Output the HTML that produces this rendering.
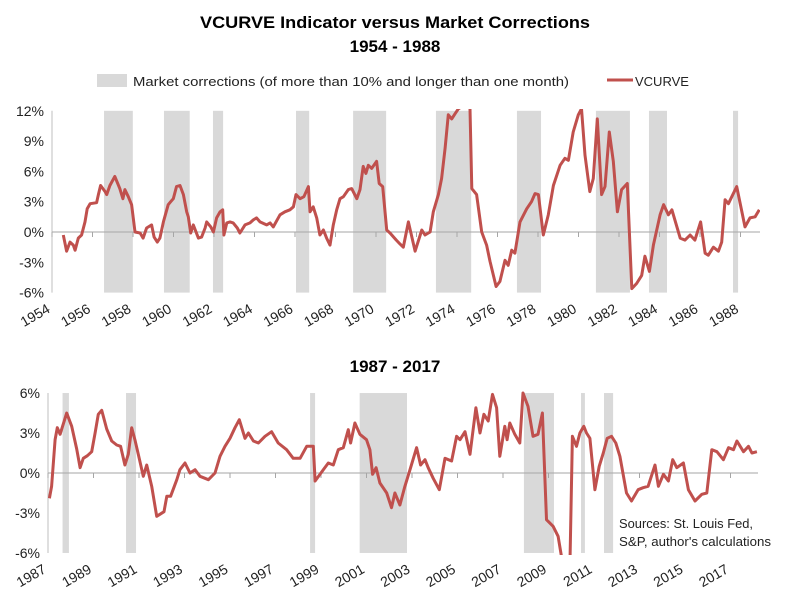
<!DOCTYPE html>
<html><head><meta charset="utf-8"><style>
body{margin:0;background:#fff;}
svg{display:block;font-family:"Liberation Sans",sans-serif;}
</style></head><body>
<svg id="chart" width="790" height="600" viewBox="0 0 790 600">
<text x="395" y="28" text-anchor="middle" font-weight="bold" font-size="17" textLength="390" lengthAdjust="spacingAndGlyphs">VCURVE Indicator versus Market Corrections</text>
<text x="395" y="52" text-anchor="middle" font-weight="bold" font-size="17">1954 - 1988</text>
<rect x="97" y="74" width="30" height="13" fill="#d9d9d9"/>
<text x="133" y="86" font-size="13" textLength="436" lengthAdjust="spacingAndGlyphs" fill="#222">Market corrections (of more than 10% and longer than one month)</text>
<line x1="607" y1="80" x2="633" y2="80" stroke="#c0504d" stroke-width="3"/>
<text x="635" y="86" font-size="13" fill="#222">VCURVE</text>
<text x="395" y="372" text-anchor="middle" font-weight="bold" font-size="17">1987 - 2017</text>
<text x="619" y="528" font-size="13" fill="#222" textLength="134" lengthAdjust="spacingAndGlyphs">Sources: St. Louis Fed,</text>
<text x="619" y="546" font-size="13" fill="#222" textLength="152" lengthAdjust="spacingAndGlyphs">S&amp;P, author's calculations</text>
<defs>
<clipPath id="clipTop"><rect x="52" y="109" width="708" height="186"/></clipPath>
<clipPath id="clipBot"><rect x="48" y="391" width="710" height="164"/></clipPath>
</defs>
</svg>
<script>
// ---- Top panel data ----
const topShadeStart=[1956.57,1959.53,1961.95,1966.05,1968.87,1972.96,1976.96,1980.86,1983.48,1987.63];
const topShadeEnd=[1957.99,1960.8,1962.45,1966.7,1970.5,1974.7,1978.15,1982.54,1984.37,1987.88];
const topYears=[1954.56,1954.72,1954.89,1955.05,1955.14,1955.3,1955.46,1955.63,1955.74,1955.88,1956.2,1956.29,1956.4,1956.62,1956.7,1956.86,1957.1,1957.35,1957.5,1957.6,1957.77,1957.93,1958.1,1958.35,1958.5,1958.67,1958.92,1959.04,1959.2,1959.33,1959.5,1959.74,1959.86,1959.99,1960.15,1960.32,1960.49,1960.65,1960.73,1960.85,1960.98,1961.23,1961.39,1961.56,1961.64,1961.84,1961.97,1962.13,1962.3,1962.43,1962.49,1962.63,1962.79,1962.95,1963.15,1963.28,1963.53,1963.78,1963.94,1964.1,1964.27,1964.6,1964.77,1964.93,1965.26,1965.5,1965.75,1965.92,1966.05,1966.25,1966.44,1966.66,1966.74,1966.9,1967.07,1967.23,1967.4,1967.56,1967.73,1967.89,1968.06,1968.22,1968.39,1968.63,1968.8,1969.05,1969.21,1969.37,1969.5,1969.62,1969.79,1970.03,1970.16,1970.33,1970.53,1970.69,1971.0,1971.19,1971.35,1971.6,1971.93,1972.26,1972.42,1972.67,1972.83,1973.08,1973.24,1973.41,1973.57,1973.74,1973.9,1974.07,1974.3,1974.56,1974.64,1974.73,1974.97,1975.22,1975.46,1975.63,1975.93,1976.12,1976.37,1976.53,1976.7,1976.86,1977.11,1977.44,1977.68,1977.85,1978.02,1978.26,1978.51,1978.76,1979.09,1979.33,1979.5,1979.74,1979.99,1980.15,1980.32,1980.56,1980.73,1980.93,1981.14,1981.31,1981.52,1981.72,1981.92,1982.13,1982.41,1982.63,1982.87,1983.12,1983.28,1983.5,1983.7,1984.03,1984.2,1984.44,1984.61,1985.02,1985.26,1985.51,1985.75,1986.03,1986.25,1986.41,1986.66,1986.91,1987.07,1987.24,1987.4,1987.81,1988.22,1988.47,1988.72,1988.93];
const topValues=[-0.3,-1.9,-1,-1.3,-1.8,-0.6,-0.3,1.0,2.3,2.8,2.9,3.7,4.6,4.0,3.7,4.6,5.5,4.3,3.3,4.2,3.5,2.7,0,-0.1,-0.6,0.4,0.7,-0.5,-1,-0.6,1.0,2.7,3.0,3.3,4.5,4.6,3.7,2.0,1.5,-0.1,0.7,-0.6,-0.5,0.4,1.0,0.5,0,1.4,2.0,2.2,-0.3,0.9,1.0,0.9,0.4,-0.1,0.7,0.9,1.2,1.4,1.0,0.7,0.9,0.5,1.7,2.0,2.2,2.5,3.7,3.3,3.5,4.5,2.0,2.5,1.4,-0.3,0.2,-0.6,-1.3,0.7,2.2,3.3,3.5,4.2,4.3,3.3,4.2,6.5,5.8,6.6,6.3,7.0,4.8,4.5,0.2,-0.1,-0.8,-1.2,-1.5,1.0,-1.9,0.2,-0.3,0,2.0,3.7,5.3,8.3,11.6,11.2,11.7,12.2,12.5,13,12.2,4.3,3.7,0,-1.3,-2.9,-5.4,-4.9,-2.8,-3.3,-1.8,-2.1,1.0,2.3,3.0,3.8,3.7,-0.3,1.7,4.6,6.6,7.3,7.1,9.9,11.6,12.2,7.6,4.0,5.3,11.2,3.7,4.5,9.9,7.0,2.0,4.2,4.8,-5.6,-5.1,-4.3,-2.4,-3.9,-1.3,1.7,2.7,1.7,2.2,-0.6,-0.8,-0.3,-0.8,1.0,-2.1,-2.3,-1.5,-1.9,-1.0,3.2,2.8,4.5,0.5,1.4,1.5,2.2];
const topYTicks=[12,9,6,3,0,-3,-6];
const topXTicks=[1954,1956,1958,1960,1962,1964,1966,1968,1970,1972,1974,1976,1978,1980,1982,1984,1986,1988];
// ---- Bottom panel data ----
const botShadeStart=[1987.64,1990.43,1998.52,2000.7,2007.92,2010.43,2011.44];
const botShadeEnd=[1987.92,1990.87,1998.74,2002.78,2009.24,2010.6,2011.84];
const botYears=[1987.06,1987.16,1987.31,1987.41,1987.53,1987.82,1988.04,1988.26,1988.41,1988.55,1988.73,1988.92,1989.07,1989.21,1989.36,1989.58,1989.8,1990.02,1990.19,1990.38,1990.53,1990.68,1990.82,1990.97,1991.19,1991.34,1991.56,1991.78,1991.92,1992.1,1992.22,1992.39,1992.66,1992.8,1993.02,1993.24,1993.46,1993.68,1994.05,1994.34,1994.56,1994.78,1995.0,1995.22,1995.41,1995.66,1995.81,1996.03,1996.25,1996.54,1996.83,1997.12,1997.49,1997.78,1998.08,1998.37,1998.66,1998.74,1999.1,1999.32,1999.54,1999.76,1999.98,2000.2,2000.3,2000.49,2000.71,2001.0,2001.15,2001.27,2001.42,2001.59,2001.89,2002.1,2002.25,2002.47,2002.69,2002.91,2003.2,2003.38,2003.57,2003.71,2003.93,2004.2,2004.45,2004.74,2004.96,2005.11,2005.33,2005.55,2005.81,2005.99,2006.16,2006.35,2006.54,2006.72,2006.86,2007.08,2007.18,2007.3,2007.52,2007.74,2007.88,2008.1,2008.32,2008.54,2008.73,2008.91,2009.2,2009.42,2009.64,2009.94,2010.05,2010.23,2010.38,2010.55,2010.67,2010.82,2011.04,2011.23,2011.41,2011.58,2011.77,2011.96,2012.14,2012.43,2012.65,2012.94,2013.16,2013.38,2013.68,2013.83,2014.05,2014.27,2014.46,2014.64,2014.93,2015.15,2015.44,2015.74,2015.96,2016.18,2016.4,2016.69,2016.91,2017.13,2017.28,2017.57,2017.79,2017.94,2018.16];
const botValues=[-1.9,-1.0,2.5,3.4,2.9,4.5,3.5,1.8,0.4,1.1,1.3,1.6,3.0,4.4,4.7,3.3,2.4,2.1,2.0,0.6,1.4,3.4,2.5,1.4,-0.25,0.6,-1.0,-3.25,-3.1,-2.9,-1.75,-1.75,-0.5,0.25,0.75,0,0.25,-0.25,-0.5,0,1.25,2.0,2.6,3.4,4.0,2.6,3.0,2.4,2.25,2.75,3.1,2.25,1.75,1.1,1.1,2.0,2.0,-0.6,0.25,0.75,0.6,1.75,1.9,3.25,2.25,3.75,2.9,2.5,1.75,-0.1,0.4,-0.75,-1.5,-2.6,-1.5,-2.4,-1.0,0.25,1.9,0.6,1.0,0.4,-0.4,-1.25,1.1,0.9,2.75,2.5,3.1,1.4,4.9,3.0,4.4,3.9,5.9,4.9,1.25,3.5,2.5,3.75,2.9,2.25,6.0,5.0,2.75,2.9,4.5,-3.5,-4.0,-4.75,-7,-7,2.75,2.0,3.0,3.5,3.0,2.6,-1.25,0.5,1.5,2.6,2.75,2.25,1.25,-1.5,-2.1,-1.25,-1.1,-1.0,0.6,-1.0,-0.1,-0.6,1.0,0.4,0.75,-1.25,-2.1,-1.6,-1.5,1.75,1.6,1.0,1.9,1.75,2.4,1.6,2.0,1.5,1.6];
const botYTicks=[6,3,0,-3,-6];
const botXTicks=[1987,1989,1991,1993,1995,1997,1999,2001,2003,2005,2007,2009,2011,2013,2015,2017];

const NS='http://www.w3.org/2000/svg';
const svg=document.getElementById('chart');
function mk(tag,attrs,parent){const e=document.createElementNS(NS,tag);for(const k in attrs)e.setAttribute(k,attrs[k]);(parent||svg).appendChild(e);return e;}

function panel(cfg){
  const x=y=>cfg.x0+(y-cfg.yr0)*cfg.pxYr;
  const yv=v=>cfg.zeroY-v*cfg.pxPct;
  const g=mk('g',{});
  
  
  for(let i=0;i<cfg.ss.length;i++){
    const r=mk('rect',{x:x(cfg.ss[i]),y:yv(cfg.ymax),width:x(cfg.se[i])-x(cfg.ss[i]),height:yv(cfg.ymin)-yv(cfg.ymax),fill:'#d9d9d9'},g);
    
    
  }
  const ax=mk('line',{x1:cfg.x0,x2:cfg.x0,y1:yv(cfg.ymax),y2:yv(cfg.ymin),stroke:'#bfbfbf','stroke-width':1},g);
  
  
  const zl=mk('line',{x1:cfg.x0,x2:cfg.xEnd,y1:yv(0),y2:yv(0),stroke:'#a6a6a6','stroke-width':1},g);
  
  
  cfg.yt.forEach(v=>{
    const t=mk('text',{x:cfg.x0-8,y:yv(v)+5,'text-anchor':'end','font-size':14,fill:'#222'},g);
    t.textContent=v+'%';
    
    
  });
  cfg.xt.forEach(yr=>{
    const tx=x(yr);
    const tk=mk('line',{x1:tx,x2:tx,y1:yv(0),y2:yv(0)+5,stroke:'#a6a6a6'},g);
    
    
    const lx=tx-1, ly=yv(cfg.ymin)+19;
    const t=mk('text',{x:lx,y:ly,'text-anchor':'end','font-size':14,fill:'#222',transform:`rotate(-30 ${lx} ${ly})`},g);
    t.textContent=yr;
    
    
  });
  const d=cfg.yrs.map((yr,i)=>(i?'L':'M')+x(yr).toFixed(1)+','+yv(cfg.vals[i]).toFixed(1)).join('');
  const p=mk('path',{d:d,fill:'none',stroke:'#c0504d','stroke-width':3,'stroke-linejoin':'round','clip-path':cfg.clip},g);
  
  
}
panel({name:'top-panel',x0:52,xEnd:760,yr0:1954,pxYr:20.25,zeroY:232,pxPct:10.1,ymax:12,ymin:-6,ss:topShadeStart,se:topShadeEnd,yt:topYTicks,xt:topXTicks,yrs:topYears,vals:topValues,clip:'url(#clipTop)'});
panel({name:'bottom-panel',x0:48,xEnd:758,yr0:1987,pxYr:22.75,zeroY:473,pxPct:13.33,ymax:6,ymin:-6,ss:botShadeStart,se:botShadeEnd,yt:botYTicks,xt:botXTicks,yrs:botYears,vals:botValues,clip:'url(#clipBot)'});
</script>
</body></html>
